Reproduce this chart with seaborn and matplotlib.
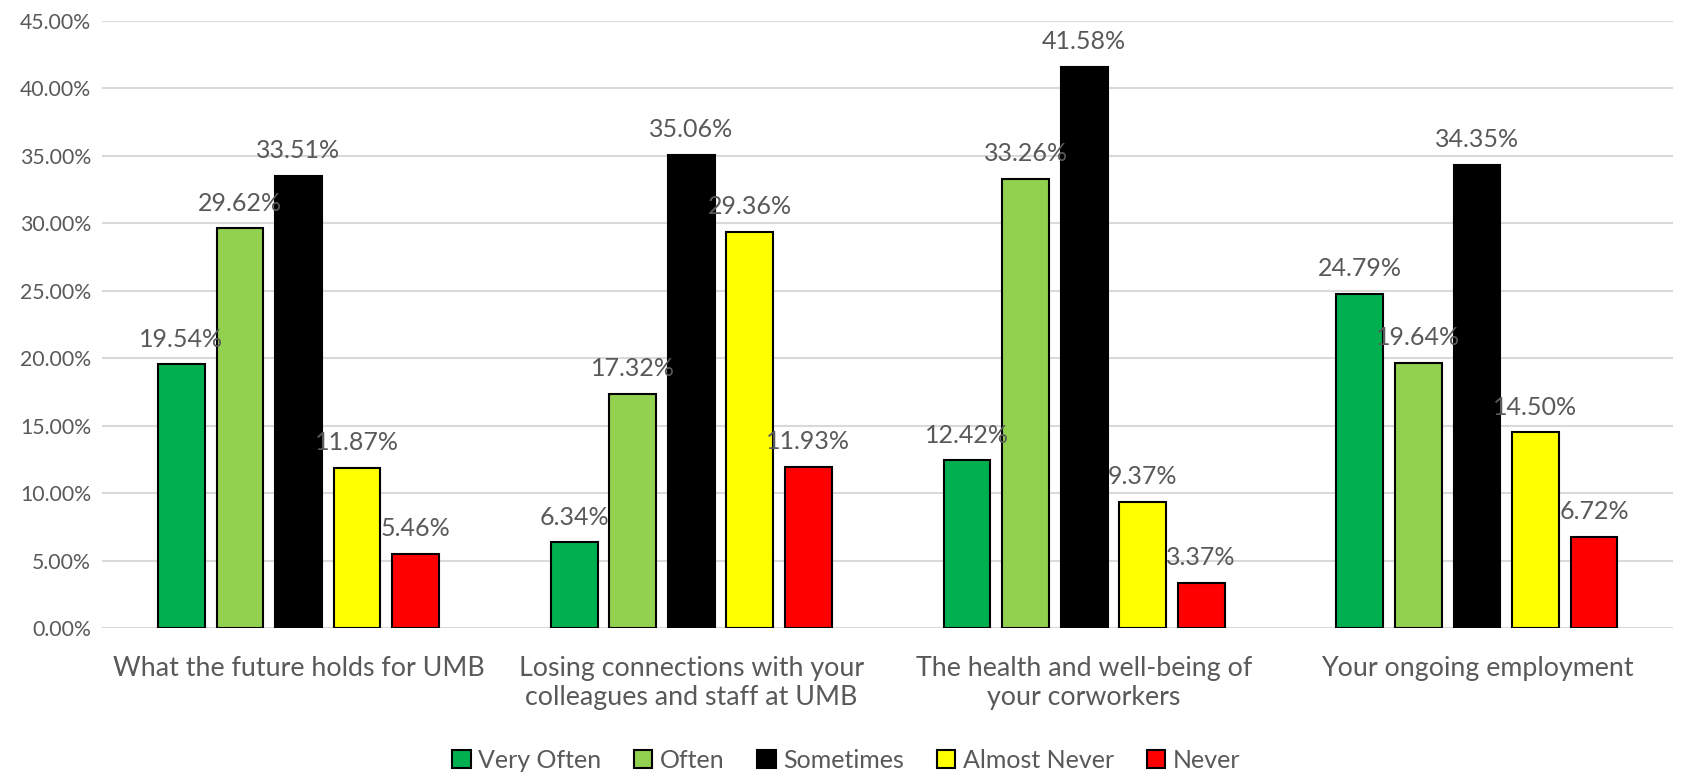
import pandas as pd
import seaborn as sns
import matplotlib.pyplot as plt
from matplotlib.ticker import FuncFormatter, MultipleLocator

# data
topics = ["What the future holds for UMB",
          "Losing connections with your\ncolleagues and staff at UMB",
          "The health and well-being of\nyour corworkers",
          "Your ongoing employment"]
answers = ["Very Often", "Often", "Sometimes", "Almost Never", "Never"]
very_often = [19.54, 6.34, 12.42, 24.79]
often = [29.62, 17.32, 33.26, 19.64]
sometimes = [33.51, 35.06, 41.58, 34.35]
almost_never = [11.87, 29.36, 9.37, 14.50]
never = [5.46, 11.93, 3.37, 6.72]
colors = ["#00B050", "#92D050", "#000000", "#FFFF00", "#FF0000"]

series = [very_often, often, sometimes, almost_never, never]
rows = []
for ans, vals in zip(answers, series):
    for t, v in zip(topics, vals):
        rows.append([t, ans, v / 100])
df = pd.DataFrame(rows, columns=["topic", "answer", "share"])

sns.set_theme(style="white")
plt.rcParams['font.family'] = ['Lato', 'DejaVu Sans']
grey = "#595959"

fig = plt.figure(figsize=(16.92, 7.76), dpi=100)
ax = fig.add_axes([0.0603, 0.1907, 0.9287, 0.7823])
sns.barplot(data=df, x="topic", y="share", hue="answer", order=topics,
            hue_order=answers, palette=colors, saturation=1, width=0.745, gap=0.2,
            edgecolor="black", linewidth=1.5, legend=True, ax=ax, zorder=3)

for cont in ax.containers:
    ax.bar_label(cont, labels=[f"{b.get_height()*100:.2f}%" for b in cont],
                 padding=10, fontsize=18, color=grey)

ax.set_ylim(0, 0.45)
ax.yaxis.set_major_locator(MultipleLocator(0.05))
ax.yaxis.set_major_formatter(FuncFormatter(lambda v, p: f"{v*100:.2f}%"))
ax.grid(axis='y', color="#d9d9d9", linewidth=1.5, zorder=0)
ax.set_axisbelow(True)
for s in ax.spines.values():
    s.set_visible(False)
ax.set(xlabel="", ylabel="")
ax.tick_params(axis='y', labelsize=15.3, colors=grey, length=0, pad=8)
ax.tick_params(axis='x', labelsize=19.3, colors=grey, length=0, pad=20)

ax.get_legend().remove()
handles = [plt.Rectangle((0, 0), 1, 1, facecolor=c, edgecolor="black", linewidth=1.5)
           for c in colors]
fig.legend(handles, answers, loc="center", bbox_to_anchor=(0.5, 0.02), ncol=5,
           frameon=False, fontsize=18, labelcolor=grey, handlelength=0.75,
           handleheight=0.75, handletextpad=0.3, columnspacing=1.3)

fig.savefig("out.png", dpi=100)
